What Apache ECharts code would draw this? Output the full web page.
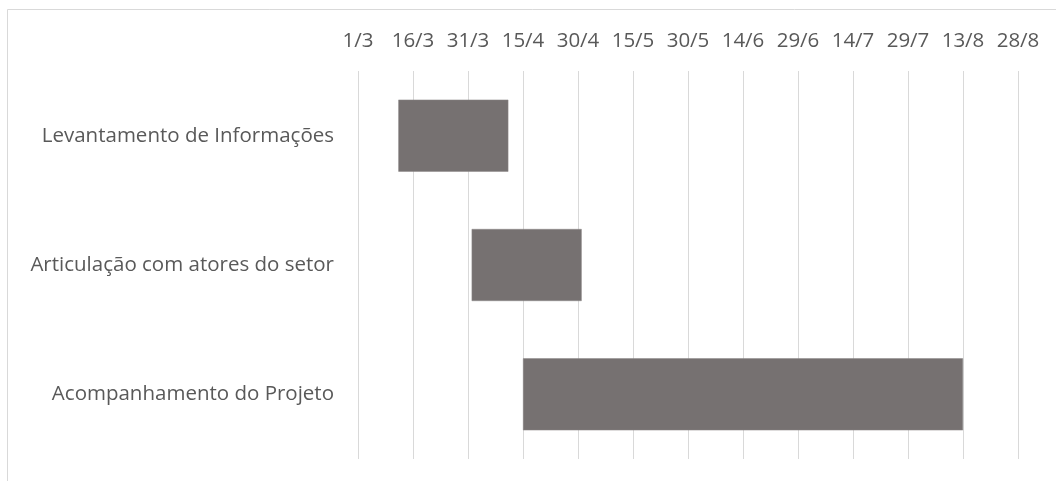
<!DOCTYPE html>
<html>
<head>
<meta charset="utf-8">
<script src="https://cdn.jsdelivr.net/npm/echarts@6/dist/echarts.min.js"></script>
<style>
html,body{margin:0;padding:0;background:#fff;}
#chart{width:1056px;height:481px;}
</style>
</head>
<body>
<div id="chart"></div>
<script>
const categories = ['Levantamento de Informações', 'Articulação com atores do setor', 'Acompanhamento do Projeto'];
const startDates = ['2020-03-12', '2020-04-01', '2020-04-15'];
const endDates = ['2020-04-11', '2020-05-01', '2020-08-13'];
const axisStartDate = '2020-03-01';
const axisEndDate = '2020-08-28';
const tickStepDays = 15;

const DAY = 86400000;
function toDay(s) {
  const p = s.split('-').map(Number);
  return Math.round((Date.UTC(p[0], p[1] - 1, p[2]) - Date.UTC(2020, 2, 1)) / DAY);
}
const base = toDay(axisStartDate);
const offsets = startDates.map(d => toDay(d) - base);
const durations = endDates.map((d, i) => toDay(d) - toDay(startDates[i]));
const axisMax = toDay(axisEndDate) - base;

function fmt(v) {
  const d = new Date(Date.UTC(2020, 2, 1) + (v + base) * DAY);
  return d.getUTCDate() + '/' + (d.getUTCMonth() + 1);
}

const FONT = '"Open Sans", sans-serif';
const chart = echarts.init(document.getElementById('chart'), null, {renderer: 'canvas'});
chart.setOption({
  animation: false,
  backgroundColor: '#ffffff',
  graphic: [{
    type: 'rect',
    shape: {x: 7.5, y: 9.5, width: 1200, height: 600},
    style: {fill: 'none', stroke: '#d9d9d9', lineWidth: 1},
    silent: true
  }],
  grid: {left: 358, right: 38, top: 71, bottom: 22, containLabel: false},
  xAxis: {
    type: 'value',
    position: 'top',
    min: 0,
    max: axisMax,
    interval: tickStepDays,
    axisLine: {show: false},
    axisTick: {show: false},
    splitLine: {show: true, lineStyle: {color: '#d9d9d9', width: 1}},
    axisLabel: {
      formatter: fmt,
      color: '#595959',
      fontFamily: FONT,
      fontSize: 20.5,
      margin: 19
    }
  },
  yAxis: {
    type: 'category',
    data: categories,
    inverse: true,
    axisLine: {show: false},
    axisTick: {show: false},
    splitLine: {show: false},
    axisLabel: {
      color: '#595959',
      fontFamily: FONT,
      fontSize: 20.5,
      margin: 24
    }
  },
  series: [
    {
      type: 'bar',
      stack: 'g',
      data: offsets,
      itemStyle: {color: 'transparent'},
      barWidth: 72,
      silent: true
    },
    {
      type: 'bar',
      stack: 'g',
      data: durations,
      barWidth: 72,
      itemStyle: {color: '#767171', borderColor: '#8a8686', borderWidth: 0.5}
    }
  ]
});
</script>
</body>
</html>
